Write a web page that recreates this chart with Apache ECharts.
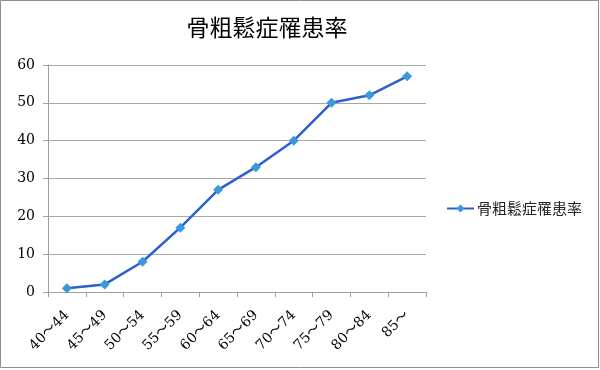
<!DOCTYPE html>
<html><head><meta charset="utf-8">
<script src="https://cdn.jsdelivr.net/npm/echarts@6/dist/echarts.min.js"></script>
<style>html,body{margin:0;padding:0;background:#fff}#c{width:600px;height:370px}</style>
</head><body><div id="c"></div>
<script>
const titleText = '骨粗鬆症罹患率';
const categories = ['40～44','45～49','50～54','55～59','60～64','65～69','70～74','75～79','80～84','85～'];
const values = [1, 2, 8, 17, 27, 33, 40, 50, 52, 57];
const yTicks = {min: 0, max: 60, interval: 10};

const chart = echarts.init(document.getElementById('c'), null, {renderer: 'canvas'});
const serif = '"DejaVu Serif", "Noto Sans CJK JP", serif';
chart.setOption({
  animation: false,
  backgroundColor: '#fff',
  graphic: [{type: 'rect', shape: {x: 0.5, y: 0.5, width: 598, height: 367}, style: {fill: 'none', stroke: '#8c8c8c', lineWidth: 1}, silent: true}],
  title: {text: titleText, left: 262, top: 11, textAlign: 'center',
    textStyle: {fontFamily: '"Noto Sans CJK JP", serif', fontWeight: 'normal', fontSize: 23, color: '#000'}},
  legend: {orient: 'vertical', left: 446, top: 201, padding: 0, itemWidth: 27, itemHeight: 10, itemGap: 4,
    textStyle: {fontFamily: '"Noto Sans CJK JP", sans-serif', fontSize: 15, color: '#222', padding: [0,0,0,-2]}},
  grid: {left: 48, right: 174, top: 65, bottom: 78, containLabel: false},
  xAxis: {type: 'category', data: categories, boundaryGap: true,
    axisLine: {lineStyle: {color: '#a0a0a0', width: 1}},
    axisTick: {show: true, alignWithLabel: false, length: 5, lineStyle: {color: '#a0a0a0'}},
    axisLabel: {rotate: 45, interval: 0, margin: 21, fontFamily: serif, fontSize: 14, color: '#000'}},
  yAxis: {type: 'value', min: yTicks.min, max: yTicks.max, interval: yTicks.interval,
    axisLine: {show: true, lineStyle: {color: '#a0a0a0', width: 1}},
    axisTick: {show: true, length: 5, lineStyle: {color: '#a0a0a0'}},
    splitLine: {lineStyle: {color: '#a8a8a8', width: 1}},
    axisLabel: {margin: 13, fontFamily: serif, fontSize: 14, color: '#000'}},
  series: [{name: titleText, type: 'line', data: values,
    symbol: 'diamond', symbolSize: 10,
    lineStyle: {color: '#2c5fd0', width: 2.5},
    itemStyle: {color: '#3a9ad9'}}]
});
</script></body></html>
